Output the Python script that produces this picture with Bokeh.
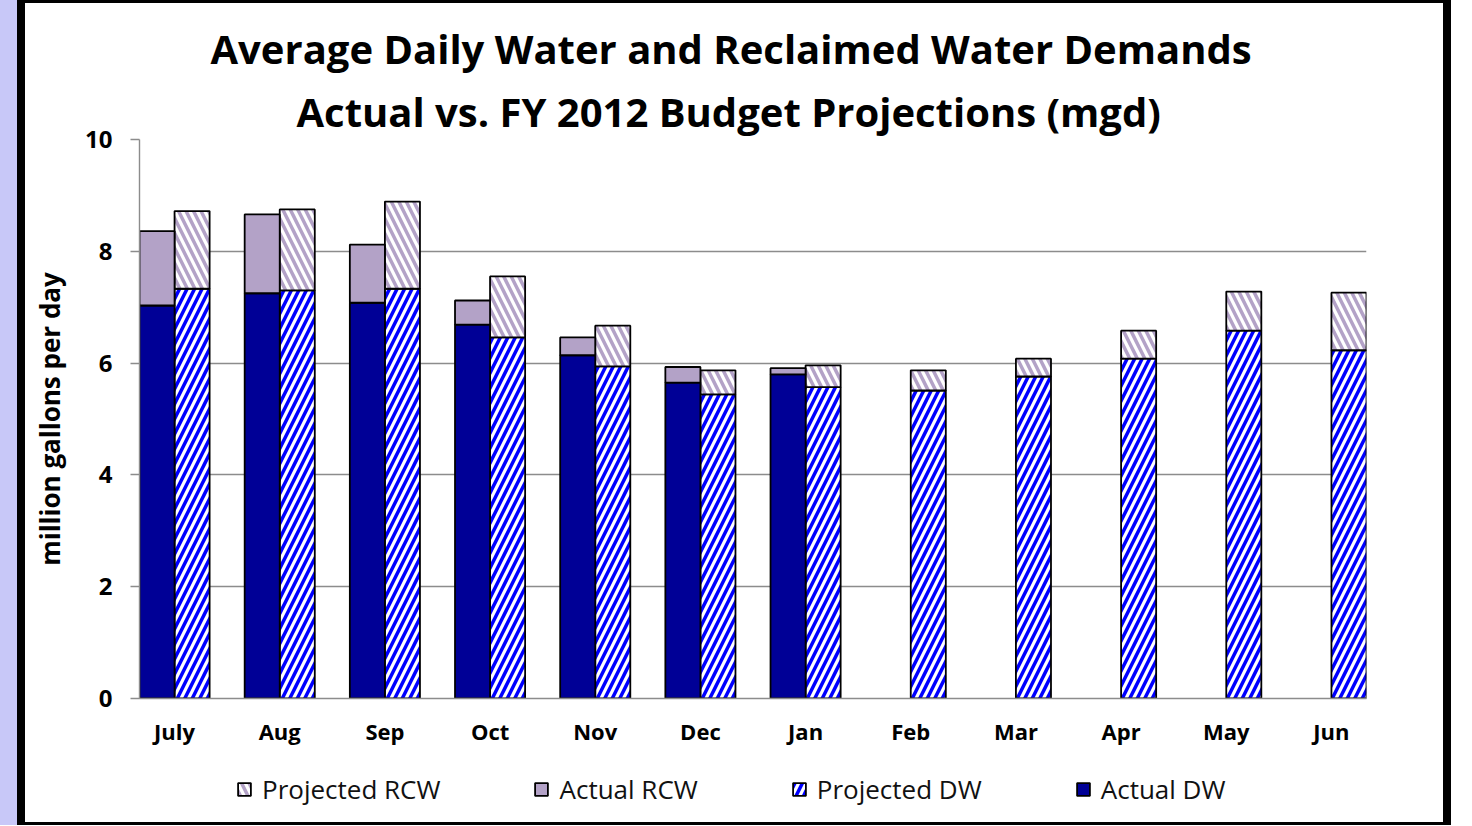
from bokeh.plotting import figure
from bokeh.models import (Range1d, FixedTicker, Legend, LegendItem, Title,
                          ColumnDataSource, Div)
from bokeh.layouts import row, column
from bokeh.embed import file_html
from bokeh.resources import INLINE

months = ["July", "Aug", "Sep", "Oct", "Nov", "Dec", "Jan", "Feb", "Mar", "Apr", "May", "Jun"]
actual_dw = [7.03, 7.25, 7.08, 6.69, 6.14, 5.65, 5.80]
actual_rcw = [1.33, 1.41, 1.04, 0.43, 0.32, 0.28, 0.11]
projected_dw = [7.33, 7.30, 7.33, 6.46, 5.94, 5.44, 5.57, 5.51, 5.76, 6.08, 6.58, 6.23]
projected_rcw = [1.39, 1.45, 1.56, 1.09, 0.73, 0.43, 0.39, 0.36, 0.32, 0.50, 0.70, 1.03]
y_ticks = [0, 2, 4, 6, 8, 10]

FONT = "Open Sans"
NAVY = "#000096"
LAV = "#B3A2C7"
BLUE = "#0000FF"
GRID = "#8C8C8C"
STRIP = "#C8C8F8"

n_act = len(actual_dw)
n_proj = len(projected_dw)
bw = 1.0 / 3.0

act = ColumnDataSource(dict(
    x=[i - bw / 2 for i in range(n_act)],
    dw=actual_dw,
    tot=[a + b for a, b in zip(actual_dw, actual_rcw)],
))
proj = ColumnDataSource(dict(
    x=[i + bw / 2 for i in range(n_proj)],
    dw=projected_dw,
    tot=[a + b for a, b in zip(projected_dw, projected_rcw)],
))

PDW = dict(fill_color="white", hatch_pattern="/", hatch_color=BLUE,
           hatch_weight=3.5, hatch_scale=15, line_color="black", line_width=1.8)
PRC = dict(fill_color="white", hatch_pattern="\\", hatch_color=LAV,
           hatch_weight=3.5, hatch_scale=15, line_color="black", line_width=1.8)
ADW = dict(fill_color=NAVY, line_color="black", line_width=1.8)
ARC = dict(fill_color=LAV, line_color="black", line_width=1.8)


def add_bars(fig, **kw):
    r_pdw = fig.vbar(x="x", bottom=0, top="dw", width=bw, source=proj, **PDW, **kw)
    r_prc = fig.vbar(x="x", bottom="dw", top="tot", width=bw, source=proj, **PRC, **kw)
    r_adw = fig.vbar(x="x", bottom=0, top="dw", width=bw, source=act, **ADW, **kw)
    r_arc = fig.vbar(x="x", bottom="dw", top="tot", width=bw, source=act, **ARC, **kw)
    return r_pdw, r_prc, r_adw, r_arc


p = figure(width=1418, height=757, output_backend="svg", toolbar_location=None,
           x_range=Range1d(-bw, len(months) - 1 + bw), y_range=Range1d(0, 10),
           min_border_left=114, min_border_right=77, min_border_top=136,
           min_border_bottom=62, background_fill_color="white",
           border_fill_color="white", outline_line_color=None)
add_bars(p)

# axes
p.xgrid.visible = False
p.ygrid.grid_line_color = GRID
p.ygrid.grid_line_width = 1.4
p.ygrid.ticker = FixedTicker(ticks=y_ticks)
p.ygrid.level = "underlay"

p.yaxis.ticker = FixedTicker(ticks=y_ticks)
p.yaxis.axis_line_color = GRID
p.yaxis.axis_line_width = 1.4
p.yaxis.major_tick_line_color = GRID
p.yaxis.major_tick_line_width = 1.4
p.yaxis.major_tick_out = 9
p.yaxis.major_tick_in = 0
p.yaxis.minor_tick_line_color = None
p.yaxis.major_label_text_font = FONT
p.yaxis.major_label_text_font_style = "bold"
p.yaxis.major_label_text_font_size = "24px"
p.yaxis.major_label_text_color = "black"
p.yaxis.major_label_standoff = 18
p.yaxis.axis_label = "million gallons per day"
p.yaxis.axis_label_text_font = FONT
p.yaxis.axis_label_text_font_style = "bold"
p.yaxis.axis_label_text_font_size = "26px"
p.yaxis.axis_label_text_color = "black"
p.yaxis.axis_label_standoff = 14

p.xaxis.ticker = FixedTicker(ticks=list(range(len(months))))
p.xaxis.major_label_overrides = {i: m for i, m in enumerate(months)}
p.xaxis.axis_line_color = GRID
p.xaxis.axis_line_width = 1.4
p.xaxis.major_tick_line_color = None
p.xaxis.minor_tick_line_color = None
p.xaxis.major_tick_out = 0
p.xaxis.major_tick_in = 0
p.xaxis.major_label_text_font = FONT
p.xaxis.major_label_text_font_style = "bold"
p.xaxis.major_label_text_font_size = "22px"
p.xaxis.major_label_text_color = "black"
p.xaxis.major_label_standoff = 17

# titles (second line added first: it sits closest to the plot)
t2 = Title(text="Actual vs. FY 2012 Budget Projections (mgd)", align="left",
           text_font=FONT, text_font_style="bold", text_font_size="40px",
           text_color="black", offset=157, standoff=2)
t1 = Title(text="Average Daily Water and Reclaimed Water Demands", align="left",
           text_font=FONT, text_font_style="bold", text_font_size="40px",
           text_color="black", offset=71, standoff=10)
p.add_layout(t2, "above")
p.add_layout(t1, "above")

# legend strip under the chart: same series, renderers hidden (legend only)
pl = figure(width=1418, height=62, output_backend="svg", toolbar_location=None,
            x_range=Range1d(-bw, len(months) - 1 + bw), y_range=Range1d(0, 10),
            min_border=0, x_axis_location=None, y_axis_location=None,
            background_fill_color="white", border_fill_color="white",
            outline_line_color=None)
pl.grid.visible = False
l_pdw, l_prc, l_adw, l_arc = add_bars(pl, visible=False)
legend = Legend(items=[
    LegendItem(label="Projected RCW", renderers=[l_prc]),
    LegendItem(label="Actual RCW", renderers=[l_arc]),
    LegendItem(label="Projected DW", renderers=[l_pdw]),
    LegendItem(label="Actual DW", renderers=[l_adw]),
], orientation="horizontal", location=(97, 15))
legend.border_line_color = None
legend.background_fill_alpha = 0
legend.label_text_font = FONT
legend.label_text_font_size = "26px"
legend.label_text_color = "#111111"
legend.glyph_width = 16
legend.glyph_height = 16
legend.label_standoff = 10
legend.spacing = 93
legend.margin = 0
legend.padding = 4
legend.click_policy = "none"
pl.add_layout(legend, "center")

# page frame decorations: lavender strip and black border
lav_strip = Div(text="", width=17, height=825, margin=0, styles={"background": STRIP})
top_bar = Div(text="", width=1434, height=3, margin=0, styles={"background": "black"})
left_bar = Div(text="", width=8, height=822, margin=0, styles={"background": "black"})
right_bar = Div(text="", width=8, height=822, margin=0, styles={"background": "black"})
bottom_bar = Div(text="", width=1418, height=3, margin=0, styles={"background": "black"})

layout = row(lav_strip,
             column(top_bar,
                    row(left_bar, column(p, pl, bottom_bar, spacing=0), right_bar, spacing=0),
                    spacing=0),
             spacing=0)

open("out.html", "w").write(file_html(layout, INLINE))
